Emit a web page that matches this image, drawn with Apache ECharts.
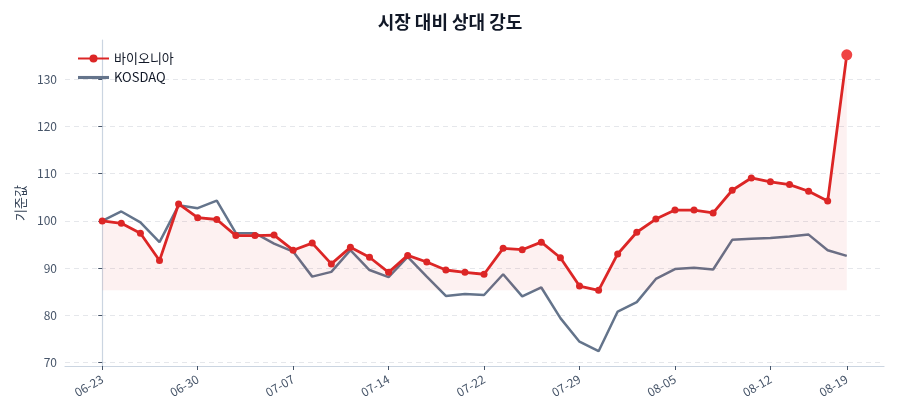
<!DOCTYPE html>
<html>
<head>
<meta charset="utf-8">
<script src="https://cdn.jsdelivr.net/npm/echarts@6/dist/echarts.min.js"></script>
<style>
    html, body { margin: 0; padding: 0; background: #fff; }
    #chart { width: 900px; height: 420px; }
</style>
</head>
<body>
<div id="chart"></div>
<script>
// 거래일 (06-23 ~ 08-19)
const dates = [
    "06-23", "06-24", "06-25", "06-26", "06-27",
    "06-30", "07-01", "07-02", "07-03", "07-04",
    "07-07", "07-08", "07-09", "07-10", "07-11",
    "07-14", "07-15", "07-16", "07-18", "07-21",
    "07-22", "07-23", "07-24", "07-25", "07-28",
    "07-29", "07-30", "07-31", "08-01", "08-04",
    "08-05", "08-06", "08-07", "08-08", "08-11",
    "08-12", "08-13", "08-14", "08-18", "08-19"
];

const bioneer = [
    100.0, 99.5, 97.4, 91.6, 103.6, 100.7, 100.3, 96.9, 96.9, 97.0,
    93.8, 95.3, 90.9, 94.4, 92.3, 89.1, 92.7, 91.3, 89.6, 89.1,
    88.7, 94.2, 93.9, 95.5, 92.2, 86.2, 85.3, 93.0, 97.6, 100.4,
    102.3, 102.3, 101.7, 106.5, 109.1, 108.3, 107.7, 106.3, 104.2, 135.2
];

const kosdaq = [
    100.0, 102.0, 99.7, 95.5, 103.3, 102.7, 104.3, 97.4, 97.4, 95.2,
    93.5, 88.2, 89.2, 93.8, 89.6, 88.1, 92.4, 88.2, 84.1, 84.5,
    84.3, 88.7, 84.0, 85.9, 79.4, 74.4, 72.4, 80.8, 82.8, 87.7,
    89.8, 90.1, 89.7, 96.0, 96.2, 96.4, 96.7, 97.1, 93.8, 92.6
];

const xTickIdx = [0, 5, 10, 15, 20, 25, 30, 35, 39];
const yTicks = [70, 80, 90, 100, 110, 120, 130];

const FONT = "'Noto Sans CJK KR', 'Noto Sans', sans-serif";
const RED = "#dc2626";
const GRAY = "#64748b";

const lastIdx = bioneer.length - 1;
const bioMin = Math.min.apply(null, bioneer);
const allVals = bioneer.concat(kosdaq);
const yMin = Math.min.apply(null, allVals);
const yMax = Math.max.apply(null, allVals);
const yPad = (yMax - yMin) * 0.05;
const xPad = lastIdx * 0.05;

const toPairs = arr => arr.map((v, i) => [i, v]);

const chart = echarts.init(document.getElementById("chart"));

chart.setOption({
    animation: false,
    textStyle: { fontFamily: FONT },
    title: {
        text: "시장 대비 상대 강도",
        left: "center",
        top: 8,
        textStyle: { fontFamily: FONT, fontSize: 18, fontWeight: "bold", color: "#111827" }
    },
    legend: {
        data: [
            { name: "바이오니아" },
            // 선만 있는 아이콘
            { name: "KOSDAQ", icon: "path://M0,0 L30,0 L30,3 L0,3 Z" }
        ],
        orient: "vertical",
        left: 72,
        top: 47,
        itemWidth: 31,
        itemHeight: 10,
        itemGap: 6,
        textStyle: { fontFamily: FONT, fontSize: 13, color: "#111827" }
    },
    grid: { left: 65, right: 16, top: 40, bottom: 54 },
    xAxis: {
        type: "value",
        min: -xPad,
        max: lastIdx + xPad,
        axisLine: { show: true, lineStyle: { color: "#cbd5e1", width: 1.2 } },
        axisTick: { customValues: xTickIdx, length: 4, lineStyle: { color: "#475569" } },
        axisLabel: {
            customValues: xTickIdx,
            formatter: v => dates[v],
            rotate: 30,
            margin: 12,
            fontSize: 12,
            color: "#475569",
            fontFamily: FONT
        },
        splitLine: { show: false }
    },
    yAxis: {
        type: "value",
        min: yMin - yPad,
        max: yMax + yPad,
        name: "기준값",
        nameLocation: "middle",
        nameGap: 38,
        nameRotate: 90,
        nameTextStyle: { fontFamily: FONT, fontSize: 13, color: "#334155" },
        axisLine: { show: true, lineStyle: { color: "#cbd5e1", width: 1.2 } },
        axisTick: { show: true, customValues: yTicks, length: 4, lineStyle: { color: "#475569" } },
        axisLabel: { customValues: yTicks, fontSize: 12, color: "#475569", fontFamily: FONT },
        splitLine: { show: true, lineStyle: { color: "#e5e7eb", type: [5, 4], width: 1 } }
    },
    series: [
        {
            name: "KOSDAQ",
            type: "line",
            data: toPairs(kosdaq),
            symbol: "none",
            color: GRAY,
            lineStyle: { width: 2.5, color: GRAY },
            z: 2
        },
        {
            name: "바이오니아",
            type: "line",
            data: toPairs(bioneer),
            symbol: "circle",
            symbolSize: 7,
            color: RED,
            lineStyle: { width: 2.8, color: RED },
            itemStyle: { color: RED },
            areaStyle: { origin: bioMin, color: "rgba(220, 38, 38, 0.09)" },
            z: 3
        },
        {
            name: "last",
            type: "scatter",
            data: [[lastIdx, bioneer[lastIdx]]],
            symbolSize: 11,
            itemStyle: { color: "#ef4444", opacity: 1 },
            z: 4
        }
    ]
});
</script>
</body>
</html>
